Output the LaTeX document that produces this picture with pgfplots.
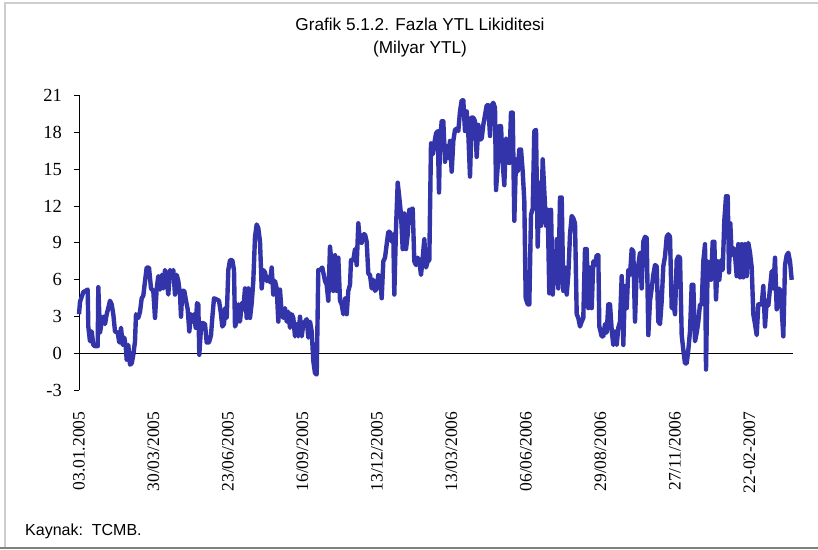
\documentclass[border=0pt]{standalone}
\usepackage{fontspec}
\setmainfont{Liberation Sans}
\newfontfamily\serifnum{Liberation Serif}
\usepackage{pgfplots}
\usepackage{pgfplotstable}
\pgfplotsset{compat=1.18}
\definecolor{linecol}{RGB}{51,51,170}
\definecolor{framelight}{RGB}{205,205,205}
\definecolor{framedark}{RGB}{128,128,128}
\pgfplotstableread{
x y
0 3.2
1 4.2
4.3 5.0
8.7 5.2
9.3 2.2
11 1.0
12.7 1.8
14.3 0.7
16 0.6
18.7 0.6
19.3 5.4
21 1.7
22.7 2.6
24.3 3.0
26 2.4
27.7 3.2
29.3 3.7
31 4.3
32.7 4.0
34.3 3.2
36 1.8
38.7 1.7
40.3 0.9
42 2.1
43.7 0.7
45.3 1.3
46.7 0.6
47.7 -0.5
49.3 0.7
51 -0.9
52.7 -0.8
54.3 -0.1
56 1.0
57 3.2
59.3 2.9
61 3.4
62.7 4.5
64.3 4.7
66 5.9
67.7 7.0
70 7.0
72 5.3
74.3 5.1
76 2.9
77.7 5.3
79.3 6.3
81 5.2
82.7 6.4
84.3 5.3
86 6.8
87.7 5.9
89.3 4.8
91 6.8
92.7 6.4
94.3 6.8
96 4.8
97.7 6.4
99.3 5.9
101 4.8
102 3.0
103.3 5.1
105.3 5.1
107 4.3
108.7 3.6
110.3 1.8
112 3.2
113.3 2.6
115 3.2
116.7 2.1
118 4.1
119.3 4.0
120.3 -0.1
122 2.1
123.3 2.5
126 2.4
127.7 0.9
130 0.9
132 1.5
133.3 2.9
135 4.5
137.7 4.4
140 4.3
141.7 3.4
143.3 2.2
145 2.4
146 3.7
147.7 2.9
149.3 6.8
151 7.6
153.3 7.6
155 6.8
156 2.2
157.7 2.6
159.3 4.0
161 2.6
162.7 4.1
164.3 3.6
166 5.3
167.7 2.9
169.3 5.3
171 2.9
172.7 4.1
174.3 5.9
176 9.5
177.7 10.5
179.3 10.2
181 9.1
182.7 5.3
184.3 6.8
186 6.6
187.7 5.9
189.3 6.2
191 5.8
192.7 7.0
194.3 4.8
196 5.9
197.7 5.3
199.3 2.6
201 5.2
202.7 3.2
204.3 2.9
206 3.7
207.7 2.6
209.3 3.4
211 2.1
212.7 3.2
214.3 2.9
216 1.4
217.7 2.4
219.3 1.4
221 3.0
222.7 1.4
224.3 2.4
226 2.6
227.7 2.8
229.3 1.3
231 2.6
232.7 1.8
234.3 -0.6
236 -1.6
237.7 -1.7
239.3 6.8
241 6.8
243.3 7.0
246 5.9
247.7 5.6
249.3 4.3
251 8.7
252.7 7.2
254.3 5.1
256 8.0
257.7 5.1
259.3 7.8
261 4.3
262.7 4.0
264.3 3.2
266 4.5
267.7 3.2
269.3 5.1
271 5.6
272 7.6
274.3 7.6
276 8.5
277.7 7.2
279.3 10.6
281 9.1
282.7 9.0
284.3 9.7
286 9.7
287.7 9.1
289.3 6.5
291 6.4
292.7 5.3
294.3 6.0
296 5.1
297.7 5.3
299.3 6.4
301 6.2
302.7 4.5
304.3 7.5
306 7.8
307.7 8.9
309.3 9.9
311 9.9
312.7 9.1
314.3 9.7
315.3 4.8
317 10.2
318.7 13.9
320.3 12.7
322 11.3
323.7 8.5
325.3 11.4
327 8.5
328.7 9.7
330.3 11.7
332 11.7
333.7 11.8
335.3 7.5
337 7.2
338.7 7.8
340.3 7.5
342 6.4
343.7 7.8
345.3 9.3
347 7.0
348.7 7.5
350.3 7.6
352 17.1
353.7 16.2
355.3 17.1
357 17.9
358.7 18.1
360 13.1
361 17.3
362.7 18.9
364.3 18.9
366 15.6
367.7 16.9
369.3 15.9
371 17.3
372.7 14.8
374.3 17.3
376 18.2
377.7 18.3
379.3 18.1
381 19.7
382.7 20.6
384.3 20.6
386 18.1
387.7 19.7
389.3 17.9
391 14.4
392.7 19.2
394.3 19.2
396 18.9
397.7 16.0
399.3 18.6
401 17.4
402.7 17.5
404.3 18.6
406 19.4
407.7 20.2
409.3 20.2
411 17.7
412.7 20.2
414.3 20.4
416 20.0
417 13.3
418.7 15.2
420.3 18.5
422 18.5
423.7 15.5
425.3 13.7
427 17.5
428.7 16.7
430.3 15.5
432 19.6
433.7 19.6
435.3 10.8
437 15.8
438.7 14.8
440.3 16.6
442 16.6
443.7 14.8
445.3 12.4
446.7 4.5
448.7 4.0
450.3 4.0
452 11.3
453.7 11.8
455.3 18.1
457 18.2
458.7 8.7
460.3 13.9
462 10.4
463.7 15.8
465.3 13.2
467 10.4
468.7 11.7
470.3 4.9
472 11.7
473.7 4.8
475.3 6.7
477 5.9
477.7 9.3
479.3 5.3
481 12.7
482.7 12.7
484.3 5.1
486 7.0
487.7 4.8
489.3 6.4
491 9.7
492.7 11.2
494.3 11.0
496 10.6
497.7 3.2
499.3 2.9
501 2.2
502.7 2.6
504.3 2.9
506 8.5
507.7 8.5
509.3 3.7
511 7.0
512.7 3.7
514.3 7.5
516 7.2
517.7 8.0
519.3 8.0
520.3 2.2
522.7 1.4
524.3 1.4
526 2.4
527.7 1.7
529.3 4.0
531 4.0
532.7 1.9
534.3 0.7
536 1.8
537.7 0.7
539.3 2.1
541 2.6
542.7 6.3
544.3 0.7
546 5.5
547.7 3.7
549.3 6.8
551 6.4
552.7 8.5
554.3 8.3
556 2.6
557.7 6.8
559.3 7.2
561 8.2
562.7 5.3
564.3 9.1
566 9.5
567.7 9.4
569.3 1.5
571 4.3
572.7 5.3
574.3 6.4
576 7.2
577.7 7.1
579.3 2.6
581 2.4
582.7 4.3
584.3 7.1
586 7.9
587.7 9.5
589.3 9.7
591 9.5
592.7 3.7
594.3 4.1
596 3.2
597.7 7.6
599.3 7.9
601 7.8
602.7 1.5
604.3 0.3
606 -0.8
607.7 -0.8
609.3 0.3
611 1.8
612.7 5.6
614.3 5.6
616 1.0
617.7 1.7
619.3 2.6
621 4.0
622.7 4.0
624.3 7.5
626 8.9
627 -1.3
628.7 7.5
630.3 7.0
632 6.0
633.7 9.1
635.3 9.1
637 4.4
638.7 7.5
640.3 6.0
642 7.6
643.7 6.8
645.3 10.8
647 12.8
648.7 12.8
650 6.6
651.3 10.6
652.7 8.0
654.3 8.6
656 8.0
657.7 6.3
659.3 8.9
661 6.2
662.7 8.9
664.3 6.2
666 8.9
667.7 6.3
669.3 9.0
671 8.2
672.7 7.0
674.3 3.2
676 2.4
677.7 1.5
679.3 4.0
681 4.0
682.7 4.0
684.3 5.5
686 2.2
687.7 4.3
689.3 3.9
691 5.3
692.7 6.7
694.3 5.3
696 7.8
697.7 3.6
699.3 5.3
701 5.2
702.7 3.6
704.3 1.4
706 7.2
707.7 8.0
709.3 8.2
711 7.5
712.7 6.0
}\liq
\begin{document}
\begin{tikzpicture}[x=1pt,y=1pt]
\useasboundingbox (0,0) rectangle (818,549);
\fill[white] (0,0) rectangle (818,549);
\draw[framelight, line width=2pt] (5,0) -- (5,546) -- (818,546);
\draw[framedark, line width=2.5pt] (0,1.25) -- (818,1.25);
\node[font=\fontsize{17.2}{20}\selectfont] at (420,525) {Grafik 5.1.2. Fazla YTL Likiditesi};
\node[font=\fontsize{17.2}{20}\selectfont] at (420,500) {(Milyar YTL)};
\node[anchor=base west, inner sep=0pt, font=\fontsize{16}{19}\selectfont] at (25,14) {Kaynak:\ \ TCMB.};
\begin{axis}[
  at={(79,129)}, anchor=south west,
  scale only axis, width=714pt, height=295pt,
  xmin=0, xmax=714, ymin=-3, ymax=21,
  clip=false,
  axis x line*=bottom, axis y line*=left,
  x axis line style={draw=none},
  y axis line style={black, line width=0.9pt},
  xtick={0,74.5,149,223.5,298,372.5,447,521.5,596,670.5},
  xticklabels={03.01.2005,30/03/2005,23/06/2005,16/09/2005,13/12/2005,13/03/2006,06/06/2006,29/08/2006,27/11/2006,22-02-2007},
  xtick style={draw=none},
  xticklabel style={rotate=90, anchor=east, inner sep=0pt, font=\serifnum\fontsize{17.5}{20}\selectfont},
  xticklabel shift=16pt,
  ytick={-3,0,3,6,9,12,15,18,21},
  yticklabels={-3,0,3,6,9,12,15,18,21},
  tick align=outside,
  major tick length=5pt,
  ytick style={black, line width=0.9pt},
  yticklabel style={inner sep=0pt, xshift=-12pt, font=\serifnum\fontsize{18.5}{20}\selectfont},
]
\addplot[black, line width=1pt] coordinates {(0,0) (714,0)};
\addplot[linecol, line width=4.4pt, line join=round] table[x=x,y=y] {\liq};
\end{axis}
\end{tikzpicture}
\end{document}
